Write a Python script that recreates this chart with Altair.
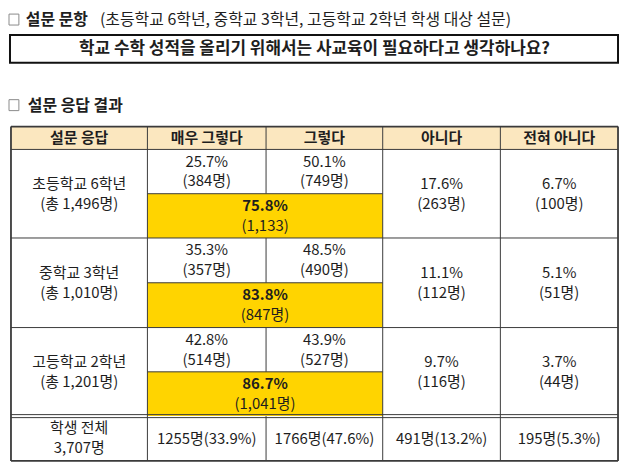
import altair as alt
import pandas as pd

# ---------------- data ----------------
title_bold = "설문 문항"
title_rest = "(초등학교 6학년, 중학교 3학년, 고등학교 2학년 학생 대상 설문)"
question = "학교 수학 성적을 올리기 위해서는 사교육이 필요하다고 생각하나요?"
result_title = "설문 응답 결과"

columns = ["설문 응답", "매우 그렇다", "그렇다", "아니다", "전혀 아니다"]
groups = ["초등학교 6학년", "중학교 3학년", "고등학교 2학년"]
group_totals = ["1,496", "1,010", "1,201"]

very_pct = [25.7, 35.3, 42.8]
very_n = [384, 357, 514]
agree_pct = [50.1, 48.5, 43.9]
agree_n = [749, 490, 527]
no_pct = [17.6, 11.1, 9.7]
no_n = [263, 112, 116]
never_pct = [6.7, 5.1, 3.7]
never_n = [100, 51, 44]
sum_pct = [75.8, 83.8, 86.7]
sum_n_labels = ["(1,133)", "(847명)", "(1,041명)"]

total_label = ["학생 전체", "3,707명"]
total_n = [1255, 1766, 491, 195]
total_pct = [33.9, 47.6, 13.2, 5.3]

# ---------------- layout (pixels) ----------------
COL_EDGES = [9, 147, 267, 385, 504, 623]
HEAD_TOP, HEAD_BOT = 126, 149
ROW_EDGES = [149, 238, 328, 417]
TOTAL_BOT = 462
LINE_GAP = 20
FS = 15

HEAD_FILL = "#FBE7BF"
SUM_FILL = "#FFD400"
LINE_COL = "#3a3a3a"
TXT = "#1e1e1e"
FONT = "Noto Sans CJK KR"

def cx(i):
    return (COL_EDGES[i] + COL_EDGES[i + 1]) / 2

# rectangles (fills)
rects = []
for i in range(5):
    rects.append(dict(x=COL_EDGES[i], x2=COL_EDGES[i + 1], y=HEAD_TOP, y2=HEAD_BOT, fill=HEAD_FILL))
for r in range(3):
    top, bot = ROW_EDGES[r], ROW_EDGES[r + 1]
    mid = (top + bot) / 2
    rects.append(dict(x=COL_EDGES[1], x2=COL_EDGES[3], y=mid, y2=bot, fill=SUM_FILL))
df_rect = pd.DataFrame(rects)

# rules
rules = []
def hl(x1, x2, y, w=1.0):
    rules.append(dict(x=x1, x2=x2, y=y, y2=y, w=w))
def vl(x, y1, y2, w=1.0):
    rules.append(dict(x=x, x2=x, y=y1, y2=y2, w=w))

L, R = COL_EDGES[0], COL_EDGES[-1]
hl(L, R, HEAD_TOP, 1.8)
hl(L, R, TOTAL_BOT, 1.8)
vl(L, HEAD_TOP, TOTAL_BOT, 1.8)
vl(R, HEAD_TOP, TOTAL_BOT, 1.8)
hl(L, R, HEAD_BOT, 1.0)
for r in range(1, 3):
    hl(L, R, ROW_EDGES[r], 1.0)
hl(L, R, ROW_EDGES[3] - 1.5, 1.0)
hl(L, R, ROW_EDGES[3] + 1.5, 1.0)
for i in (1, 3, 4):
    vl(COL_EDGES[i], HEAD_TOP, TOTAL_BOT, 1.0)
vl(COL_EDGES[2], HEAD_TOP, HEAD_BOT, 1.0)
for r in range(3):
    top, bot = ROW_EDGES[r], ROW_EDGES[r + 1]
    mid = (top + bot) / 2
    hl(COL_EDGES[1], COL_EDGES[3], mid, 1.0)
    vl(COL_EDGES[2], top, mid, 1.0)
vl(COL_EDGES[2], ROW_EDGES[3], TOTAL_BOT, 1.0)
df_rule = pd.DataFrame(rules)

# texts
norm = []
bold = []
for i, c in enumerate(columns):
    bold.append(dict(x=cx(i), y=(HEAD_TOP + HEAD_BOT) / 2, t=c))
for r in range(3):
    top, bot = ROW_EDGES[r], ROW_EDGES[r + 1]
    mid = (top + bot) / 2
    upc = (top + mid) / 2
    loc = (mid + bot) / 2
    ctr = (top + bot) / 2
    norm.append(dict(x=cx(0), y=ctr - LINE_GAP / 2, t=groups[r]))
    norm.append(dict(x=cx(0), y=ctr + LINE_GAP / 2, t=f"(총 {group_totals[r]}명)"))
    norm.append(dict(x=cx(1), y=upc - LINE_GAP / 2, t=f"{very_pct[r]}%"))
    norm.append(dict(x=cx(1), y=upc + LINE_GAP / 2, t=f"({very_n[r]}명)"))
    norm.append(dict(x=cx(2), y=upc - LINE_GAP / 2, t=f"{agree_pct[r]}%"))
    norm.append(dict(x=cx(2), y=upc + LINE_GAP / 2, t=f"({agree_n[r]}명)"))
    sx = (COL_EDGES[1] + COL_EDGES[3]) / 2
    bold.append(dict(x=sx, y=loc - LINE_GAP / 2, t=f"{sum_pct[r]}%"))
    norm.append(dict(x=sx, y=loc + LINE_GAP / 2, t=sum_n_labels[r]))
    norm.append(dict(x=cx(3), y=ctr - LINE_GAP / 2, t=f"{no_pct[r]}%"))
    norm.append(dict(x=cx(3), y=ctr + LINE_GAP / 2, t=f"({no_n[r]}명)"))
    norm.append(dict(x=cx(4), y=ctr - LINE_GAP / 2, t=f"{never_pct[r]}%"))
    norm.append(dict(x=cx(4), y=ctr + LINE_GAP / 2, t=f"({never_n[r]}명)"))
tc = (ROW_EDGES[3] + TOTAL_BOT) / 2 + 1
norm.append(dict(x=cx(0), y=ROW_EDGES[3] + 12, t=total_label[0]))
norm.append(dict(x=cx(0), y=TOTAL_BOT - 13, t=total_label[1]))
for i in range(4):
    norm.append(dict(x=cx(i + 1), y=tc, t=f"{total_n[i]}명({total_pct[i]}%)"))
df_norm = pd.DataFrame(norm)
df_bold = pd.DataFrame(bold)

# headings
df_head_bold = pd.DataFrame([
    dict(x=24, y=19, t=title_bold),
    dict(x=26, y=105, t=result_title),
])
df_head_norm = pd.DataFrame([dict(x=99, y=19, t=title_rest)])
df_boxes = pd.DataFrame([
    dict(x=7, x2=17, y=13, y2=24),
    dict(x=7, x2=17, y=99, y2=110),
])
df_qbox = pd.DataFrame([dict(x=8, x2=623, y=34, y2=62)])
df_q = pd.DataFrame([dict(x=316, y=48, t=question)])

xs = alt.Scale(domain=[8, 624], nice=False, zero=False)
ys = alt.Scale(domain=[8, 464], reverse=True, nice=False, zero=False)
X = lambda f="x": alt.X(f"{f}:Q", scale=xs, axis=None)
Y = lambda f="y": alt.Y(f"{f}:Q", scale=ys, axis=None)

rect_layer = alt.Chart(df_rect).mark_rect().encode(
    x=X(), x2="x2:Q", y=Y(), y2="y2:Q",
    color=alt.Color("fill:N", scale=None),
)
rule_layer = alt.Chart(df_rule).mark_rule(color=LINE_COL).encode(
    x=X(), x2="x2:Q", y=Y(), y2="y2:Q",
    strokeWidth=alt.StrokeWidth("w:Q", scale=None),
)
norm_layer = alt.Chart(df_norm).mark_text(
    font=FONT, fontSize=FS, color=TXT, align="center", baseline="middle"
).encode(x=X(), y=Y(), text="t:N")
bold_layer = alt.Chart(df_bold).mark_text(
    font=FONT, fontSize=FS, fontWeight="bold", color=TXT, align="center", baseline="middle"
).encode(x=X(), y=Y(), text="t:N")
hb_layer = alt.Chart(df_head_bold).mark_text(
    font=FONT, fontSize=16, fontWeight="bold", color=TXT, align="left", baseline="middle"
).encode(x=X(), y=Y(), text="t:N")
hn_layer = alt.Chart(df_head_norm).mark_text(
    font=FONT, fontSize=16, color=TXT, align="left", baseline="middle"
).encode(x=X(), y=Y(), text="t:N")
box_layer = alt.Chart(df_boxes).mark_rect(fill="white", stroke="#8a8a8a", strokeWidth=1).encode(
    x=X(), x2="x2:Q", y=Y(), y2="y2:Q"
)
qbox_layer = alt.Chart(df_qbox).mark_rect(fill="white", stroke="#111111", strokeWidth=2).encode(
    x=X(), x2="x2:Q", y=Y(), y2="y2:Q"
)
q_layer = alt.Chart(df_q).mark_text(
    font=FONT, fontSize=17, fontWeight="bold", color=TXT, align="center", baseline="middle"
).encode(x=X(), y=Y(), text="t:N")

chart = alt.layer(
    rect_layer, rule_layer, norm_layer, bold_layer,
    box_layer, hb_layer, hn_layer, qbox_layer, q_layer,
).properties(
    width=612, height=456, padding=0, background="white"
).configure_view(stroke=None)

chart.save("out.html", embed_options={"renderer": "svg", "actions": False})
